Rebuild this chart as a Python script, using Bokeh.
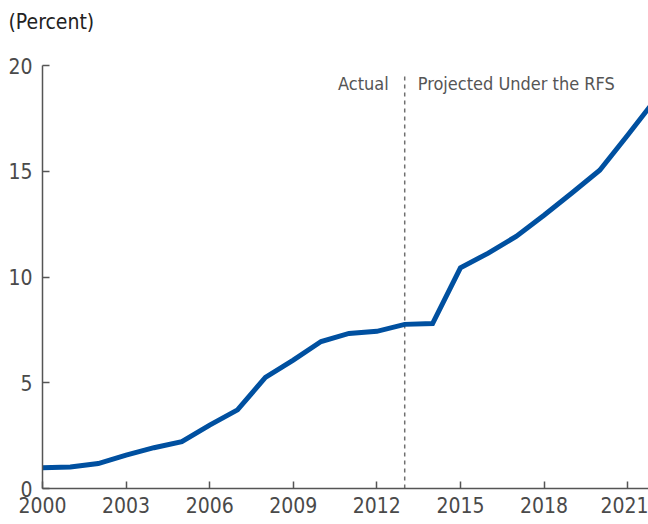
from bokeh.plotting import figure
from bokeh.models import Range1d, FixedTicker, Label, Title
from bokeh.embed import file_html
from bokeh.resources import INLINE

years = list(range(2000, 2023))
share = [0.98, 1.02, 1.18, 1.58, 1.93, 2.21, 3.0, 3.72, 5.25, 6.07, 6.95, 7.33, 7.43,
         7.76, 7.8, 10.43, 11.13, 11.92, 12.92, 13.97, 15.05, 16.7, 18.4]
x_ticks = [2000, 2003, 2006, 2009, 2012, 2015, 2018, 2021]
y_ticks = [0, 5, 10, 15, 20]
split_year = 2013
unit_label = "(Percent)"
left_label = "Actual"
right_label = "Projected Under the RFS"

FONT = "DejaVu Sans Condensed"

p = figure(width=648, height=524, output_backend="svg", toolbar_location=None,
           x_range=Range1d(2000, 2021.75), y_range=Range1d(0, 20),
           min_border_left=42, min_border_right=0, min_border_top=65, min_border_bottom=36)
p.outline_line_color = None
p.grid.grid_line_color = None
p.background_fill_color = "white"

# spacer panel between the unit title and the plot frame
p.add_layout(Title(text=" ", text_font_size="21px", text_font=FONT, standoff=4), "above")

p.title.text = unit_label
p.title.align = "left"
p.title.vertical_align = "top"
p.title.offset = -34
p.title.standoff = 0
p.title.text_font = FONT
p.title.text_font_size = "21px"
p.title.text_font_style = "normal"
p.title.text_color = "#222222"

p.segment(x0=[split_year], y0=[0], x1=[split_year], y1=[19.6],
          line_color="#6f6f6f", line_width=1.5, line_dash="4 4")
p.line(years, share, line_color="#0050A0", line_width=5, line_join="miter")

for ax in (p.xaxis, p.yaxis):
    ax.axis_line_color = "#555555"
    ax.axis_line_width = 1.5
    ax.major_tick_line_color = "#555555"
    ax.major_tick_line_width = 1.5
    ax.minor_tick_line_color = None
    ax.major_tick_out = 0
    ax.major_tick_in = 7
    ax.major_label_text_font = FONT
    ax.major_label_text_font_size = "21px"
    ax.major_label_text_color = "#4a4a4a"

p.xaxis.ticker = FixedTicker(ticks=x_ticks)
p.yaxis.ticker = FixedTicker(ticks=y_ticks)
p.xaxis.major_label_standoff = 8
p.yaxis.major_label_standoff = 10

p.add_layout(Label(x=split_year, y=20, x_offset=-16, y_offset=-18, text=left_label,
                   text_font=FONT, text_font_size="18px", text_color="#555555",
                   text_baseline="middle", text_align="right"))
p.add_layout(Label(x=split_year, y=20, x_offset=13, y_offset=-18, text=right_label,
                   text_font=FONT, text_font_size="18px", text_color="#555555",
                   text_baseline="middle", text_align="left"))

open("out.html", "w").write(file_html(p, INLINE))
